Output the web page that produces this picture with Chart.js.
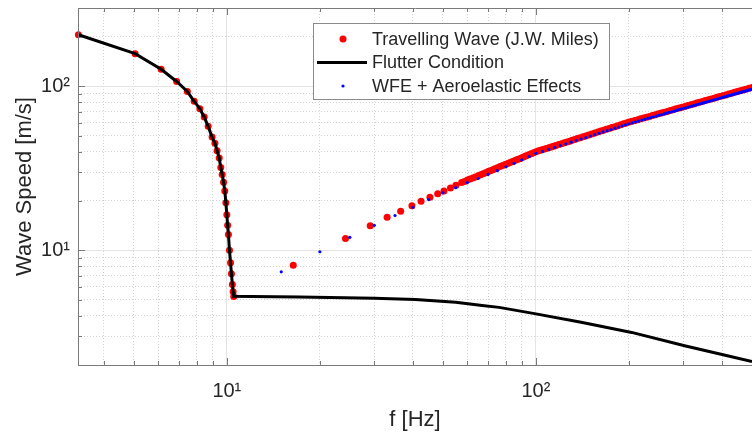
<!DOCTYPE html>
<html>
<head>
<meta charset="utf-8">
<script src="https://cdn.jsdelivr.net/npm/chart.js@4"></script>
<style>
  html, body { margin: 0; padding: 0; background: #fff; overflow: hidden; }
  #wrap { position: relative; width: 756px; height: 436px; }
</style>
</head>
<body>
<div id="wrap"><canvas id="c" width="756" height="436"></canvas></div>
<script>
const FONT = "'Liberation Sans', Arial, Helvetica, sans-serif";
const TEXT = '#262626';
const AXIS = '#7a7a7a';
const RED  = '#ff0000';
const BLUE = '#0000ff';

// axis limits and tick positions
const X_MIN = 3.3, X_MAX = 500;
const Y_MIN = 2,   Y_MAX = 300;
const X_TICKS = [4, 5, 6, 7, 8, 9, 10, 20, 30, 40, 50, 60, 70, 80, 90, 100, 200, 300, 400];
const Y_TICKS = [2, 3, 4, 5, 6, 7, 8, 9, 10, 20, 30, 40, 50, 60, 70, 80, 90, 100, 200, 300];
const X_LABELED = [10, 100];
const Y_LABELED = [10, 100];

// Travelling wave (J.W. Miles) - lower branch
const RED_LEFT_F = [3.31, 5.05, 6.13, 6.88, 7.45, 7.84, 8.18, 8.45, 8.70, 8.96, 9.15, 9.30, 9.45, 9.56, 9.66,
  9.76, 9.85, 9.93, 10.00, 10.06, 10.12, 10.20, 10.28, 10.35, 10.42, 10.48, 10.53];
const RED_LEFT_V = [206, 158, 127, 107, 93, 81, 73, 65, 57, 49, 44.9, 40.5, 36.5, 32, 29,
  26, 23, 19.5, 16.5, 14.2, 12.5, 10, 8.4, 7.2, 6.2, 5.6, 5.24];

// Travelling wave (J.W. Miles) - upper branch
const RED_RIGHT_F = [16.4, 24.2, 29.1, 33.0, 36.5, 39.7, 42.5, 45.4, 48.1, 50.4, 52.9, 55.1,
  57.5, 58.7, 60, 61.2, 62.5, 63.7, 65, 66.2, 67.5, 68.7, 70, 71.2, 72.5, 73.7, 75, 76.5, 78, 79.5,
  81, 82.5, 84, 85.5, 87, 88.5, 90, 91.5, 93, 94.7, 96.5, 98.2, 100, 102, 104, 106, 108, 110,
  112, 114, 116, 118.5, 121, 123.5, 126, 128.5, 131, 133.5, 136, 139, 142, 145, 148, 151.5,
  155, 158.5, 162, 165.5, 169, 172.5, 176, 180, 184, 188, 192, 196, 200, 204.5, 209, 213.5,
  218, 223, 228, 233, 238, 243.5, 249, 254.5, 260, 266, 272, 278, 284, 290.5, 297, 303.5,
  310, 317, 324, 331, 338, 345.5, 353, 361, 369, 377, 385, 393.5, 402, 411, 420, 429.5,
  439, 448.5, 458, 468, 478, 489, 500];
const RED_RIGHT_V = [8.1, 11.8, 14.1, 15.9, 17.3, 18.7, 19.9, 21.1, 22.1, 23.0, 24.0, 24.9,
  25.9, 26.3, 26.8, 27.2, 27.6, 28.0, 28.5, 28.9, 29.3, 29.7, 30.2, 30.6, 31.0, 31.4, 31.9, 32.4, 32.9, 33.3,
  33.8, 34.3, 34.8, 35.3, 35.8, 36.2, 36.7, 37.2, 37.7, 38.2, 38.8, 39.3, 39.9, 40.4, 40.9, 41.3, 41.8, 42.2,
  42.7, 43.1, 43.6, 44.1, 44.7, 45.2, 45.8, 46.3, 46.9, 47.4, 48.0, 48.6, 49.2, 49.8, 50.5, 51.2,
  51.9, 52.6, 53.3, 54.0, 54.7, 55.3, 56.0, 56.7, 57.5, 58.2, 59.0, 59.7, 60.5, 61.2, 61.9, 62.6,
  63.3, 64.0, 64.8, 65.5, 66.3, 67.1, 67.9, 68.7, 69.5, 70.3, 71.2, 72.0, 72.9, 73.7, 74.6, 75.4,
  76.3, 77.2, 78.1, 79.0, 79.9, 80.8, 81.8, 82.7, 83.7, 84.6, 85.6, 86.6, 87.6, 88.6, 89.7, 90.7,
  91.8, 92.8, 93.9, 94.9, 96.0, 97.1, 98.3];

// Flutter condition
const FLUTTER_F = [3.31, 5.05, 6.13, 6.88, 7.45, 7.84, 8.18, 8.45, 8.70, 8.96, 9.15, 9.30, 9.45, 9.56, 9.66,
  9.76, 9.85, 9.93, 10.00, 10.06, 10.12, 10.20, 10.28, 10.35, 10.42, 10.48, 10.53,
  12, 17.2, 30, 40.7, 55, 67, 76, 100, 140, 204, 305, 400, 500];
const FLUTTER_V = [206, 158, 127, 107, 93, 81, 73, 65, 57, 49, 44.9, 40.5, 36.5, 32, 29,
  26, 23, 19.5, 16.5, 14.2, 12.5, 10, 8.4, 7.2, 6.2, 5.6, 5.24,
  5.23, 5.2, 5.11, 5.02, 4.83, 4.61, 4.49, 4.10, 3.64, 3.16, 2.61, 2.32, 2.10];

// WFE + aeroelastic effects
const WFE_F = [15, 20, 25, 30, 35, 40, 45, 50, 55, 60, 65, 70, 75, 80, 85, 90, 95, 100,
  105, 110, 115, 120, 125, 130, 135, 140, 145, 150, 155, 160, 165, 170, 175, 180, 185, 190, 195, 200,
  205, 210, 215, 220, 225, 230, 235, 240, 245, 250, 255, 260, 265, 270, 275, 280, 285, 290, 295, 300,
  305, 310, 315, 320, 325, 330, 335, 340, 345, 350, 355, 360, 365, 370, 375, 380, 385, 390, 395, 400,
  405, 410, 415, 420, 425, 430, 435, 440, 445, 450, 455, 460, 465, 470, 475, 480, 485, 490, 495, 500];
const WFE_V = [7.4, 9.8, 12.0, 14.2, 16.3, 18.3, 20.4, 22.4, 24.1, 25.9, 27.4, 29.0, 30.6, 32.3, 33.9, 35.6, 37.3, 39.0,
  40.1, 41.3, 42.4, 43.5, 44.6, 45.6, 46.7, 47.7, 48.7, 49.7, 50.7, 51.7, 52.7, 53.6, 54.5, 55.5, 56.4, 57.3, 58.2, 59.1,
  59.9, 60.7, 61.4, 62.2, 62.9, 63.7, 64.4, 65.1, 65.8, 66.5, 67.2, 67.9, 68.6, 69.3, 70.0, 70.6, 71.3, 72.0, 72.6, 73.3,
  73.9, 74.6, 75.2, 75.8, 76.5, 77.1, 77.7, 78.3, 78.9, 79.5, 80.1, 80.7, 81.3, 81.9, 82.5, 83.0, 83.6, 84.2, 84.8, 85.4,
  85.9, 86.5, 87.0, 87.6, 88.1, 88.7, 89.2, 89.8, 90.3, 90.8, 91.4, 91.9, 92.4, 92.9, 93.5, 94.0, 94.5, 95.0, 95.5, 96.0];

const pts = (fs, vs) => fs.map((f, i) => ({ x: f, y: vs[i] }));
const SUP = { 1: '\u00b9', 2: '\u00b2', 3: '\u00b3' };
const powLabel = v => '10' + SUP[Math.round(Math.log10(v))];
const isMajor = v => Math.abs(Math.log10(v) - Math.round(Math.log10(v))) < 1e-9;

// MATLAB-ish box: top line, inward tick marks, and a legend inside the axes
const matlabAxes = {
  id: 'matlabAxes',
  afterDatasetsDraw(chart) {
    const { ctx, chartArea: ca, scales: { x, y } } = chart;
    ctx.save();
    ctx.strokeStyle = AXIS;
    ctx.lineWidth = 1;
    ctx.beginPath();
    ctx.moveTo(ca.left + 0.5, ca.bottom + 0.5);
    ctx.lineTo(ca.left + 0.5, ca.top + 0.5);
    ctx.lineTo(ca.right + 0.5, ca.top + 0.5);
    ctx.moveTo(ca.left, ca.bottom + 0.5);
    ctx.lineTo(ca.right, ca.bottom + 0.5);
    x.ticks.forEach(t => {
      const px = Math.round(x.getPixelForValue(t.value)) + 0.5;
      const len = isMajor(t.value) ? 7 : 4;
      ctx.moveTo(px, ca.bottom); ctx.lineTo(px, ca.bottom - len);
      ctx.moveTo(px, ca.top); ctx.lineTo(px, ca.top + len);
    });
    y.ticks.forEach(t => {
      const py = Math.round(y.getPixelForValue(t.value)) + 0.5;
      const len = isMajor(t.value) ? 7 : 4;
      ctx.moveTo(ca.left, py); ctx.lineTo(ca.left + len, py);
    });
    ctx.stroke();
    ctx.restore();
  },
  afterDraw(chart) {
    const { ctx, chartArea: ca } = chart;
    const left = ca.left + 235, top = ca.top + 15, w = 296, h = 76;
    ctx.save();
    ctx.fillStyle = '#fff';
    ctx.fillRect(left, top, w, h);
    ctx.strokeStyle = '#8a8a8a';
    ctx.lineWidth = 1;
    ctx.strokeRect(left + 0.5, top + 0.5, w, h);
    ctx.font = '18px ' + FONT;
    ctx.textBaseline = 'middle';
    ctx.textAlign = 'left';
    chart.data.datasets.forEach((ds, i) => {
      const cy = top + 16 + i * 23.5;
      if (ds.showLine) {
        ctx.strokeStyle = ds.borderColor;
        ctx.lineWidth = ds.borderWidth;
        ctx.beginPath();
        ctx.moveTo(left + 4, cy); ctx.lineTo(left + 54, cy);
        ctx.stroke();
      } else {
        ctx.fillStyle = ds.backgroundColor;
        ctx.beginPath();
        ctx.arc(left + 30, cy, ds.pointRadius, 0, Math.PI * 2);
        ctx.fill();
      }
      ctx.fillStyle = TEXT;
      ctx.fillText(ds.label, left + 59, cy + 1);
    });
    ctx.restore();
  }
};

// lower order is painted last (on top): blue over black over red
new Chart(document.getElementById('c'), {
  type: 'scatter',
  data: {
    datasets: [
      { label: 'Travelling Wave (J.W. Miles)', data: pts(RED_LEFT_F, RED_LEFT_V).concat(pts(RED_RIGHT_F, RED_RIGHT_V)),
        showLine: false, pointRadius: 3.5, pointBorderWidth: 0, backgroundColor: RED, borderColor: RED, order: 3, clip: false },
      { label: 'Flutter Condition', data: pts(FLUTTER_F, FLUTTER_V),
        showLine: true, pointRadius: 0, borderWidth: 3, borderColor: '#000', backgroundColor: '#000', tension: 0, order: 2 },
      { label: 'WFE + Aeroelastic Effects', data: pts(WFE_F, WFE_V),
        showLine: false, pointRadius: 1.6, pointBorderWidth: 0, backgroundColor: BLUE, borderColor: BLUE, order: 1 },
    ],
  },
  options: {
    responsive: false, animation: false,
    layout: { padding: { top: 8, right: 2, left: 0, bottom: 0 } },
    plugins: { legend: { display: false }, tooltip: { enabled: false } },
    scales: {
      x: {
        type: 'logarithmic', min: X_MIN, max: X_MAX,
        afterBuildTicks: s => { s.ticks = X_TICKS.map(v => ({ value: v })); },
        afterFit: s => { s.height = 71; s.paddingLeft = 0; s.paddingRight = 0; },
        grid: {
          drawTicks: false,
          color: c => isMajor(c.tick.value) ? '#e4e4e4' : '#d2d2d2',
        },
        border: { display: false, dash: c => isMajor(c.tick.value) ? [] : [1, 2] },
        ticks: {
          autoSkip: false, maxRotation: 0, padding: 14, color: TEXT,
          font: { family: FONT, size: 20 },
          callback: v => X_LABELED.includes(v) ? powLabel(v) : '',
        },
        title: { display: true, text: 'f [Hz]', color: TEXT, font: { family: FONT, size: 22 }, padding: { top: 0, bottom: 3 } },
      },
      y: {
        type: 'logarithmic', min: Y_MIN, max: Y_MAX,
        afterBuildTicks: s => { s.ticks = Y_TICKS.map(v => ({ value: v })); },
        afterFit: s => { s.width = 78; s.paddingTop = 0; s.paddingBottom = 0; },
        grid: {
          drawTicks: false,
          color: c => isMajor(c.tick.value) ? '#e4e4e4' : '#d2d2d2',
        },
        border: { display: false, dash: c => isMajor(c.tick.value) ? [] : [1, 2] },
        ticks: {
          autoSkip: false, padding: 8, color: TEXT,
          font: { family: FONT, size: 20 },
          callback: v => Y_LABELED.includes(v) ? powLabel(v) : '',
        },
        title: { display: true, text: 'Wave Speed [m/s]', color: TEXT, font: { family: FONT, size: 22 }, padding: { top: 12, bottom: 0 } },
      },
    },
  },
  plugins: [matlabAxes],
});
</script>
</body>
</html>
